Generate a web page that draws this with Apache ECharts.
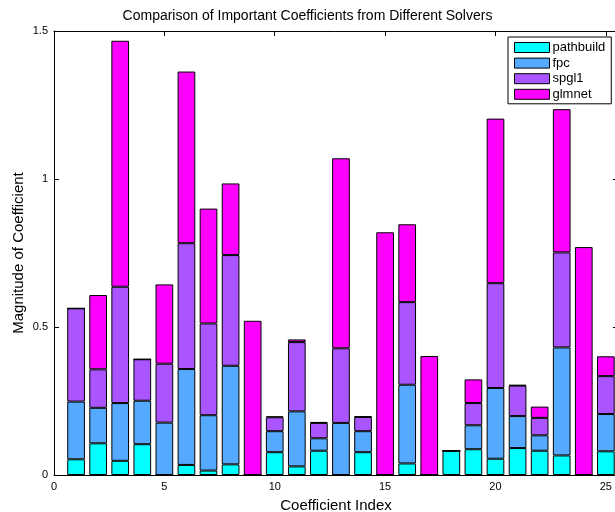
<!DOCTYPE html>
<html>
<head>
<meta charset="utf-8">
<script src="https://cdn.jsdelivr.net/npm/echarts@6/dist/echarts.min.js"></script>
<style>
  html, body { margin: 0; padding: 0; background: #fff; }
  #chart { width: 615px; height: 512px; }
</style>
</head>
<body>
<div id="chart"></div>
<script>
// Coefficient indices (x positions)
const indices = [1,2,3,4,5,6,7,8,9,10,11,12,13,14,15,16,17,18,19,20,21,22,23,24,25];
// Stacked segment heights for each solver
const pathbuild = [0.053,0.107,0.048,0.104,0,0.034,0.015,0.036,0,0.077,0.029,0.082,0,0.077,0,0.039,0,0.082,0.087,0.055,0.091,0.082,0.066,0,0.080];
const fpc       = [0.195,0.120,0.195,0.147,0.177,0.324,0.187,0.333,0,0.071,0.186,0.042,0.176,0.071,0,0.266,0,0,0.081,0.239,0.108,0.052,0.365,0,0.126];
const spgl1     = [0.315,0.130,0.393,0.140,0.199,0.425,0.310,0.374,0,0.047,0.234,0.052,0.252,0.048,0,0.279,0,0,0.075,0.354,0.103,0.059,0.321,0,0.128];
const glmnet    = [0,0.251,0.831,0,0.268,0.580,0.388,0.242,0.521,0.003,0.009,0.003,0.642,0.002,0.820,0.263,0.402,0,0.080,0.556,0.002,0.038,0.484,0.770,0.067];
const seriesNames = ['pathbuild','fpc','spgl1','glmnet'];
const seriesColors = ['#00FFFF','#55AAFF','#AA55FF','#FF00FF'];
const yTicks = [0, 0.5, 1, 1.5];
const xTicks = [0, 5, 10, 15, 20, 25];

const FONT = 'Liberation Sans, Arial, Helvetica, sans-serif';
const chart = echarts.init(document.getElementById('chart'), null, {renderer: 'canvas'});

const allData = [pathbuild, fpc, spgl1, glmnet];
// value first so that the stacked dimension is the y (value) dimension
const series = seriesNames.map((name, i) => ({
  name: name,
  type: 'bar',
  stack: 'total',
  barWidth: 17.7,
  xAxisIndex: 0,
  yAxisIndex: 0,
  dimensions: ['val', 'idx'],
  encode: { x: 'idx', y: 'val' },
  itemStyle: { color: seriesColors[i], borderColor: '#000', borderWidth: 1 },
  emphasis: { disabled: true },
  data: indices.map((x, k) => [allData[i][k], x])
}));

const axisCommonX = {
  type: 'value',
  min: 0,
  max: 25.55,
  interval: 5,
  splitLine: { show: false },
  axisLine: { onZero: false, lineStyle: { color: '#000', width: 1 } },
  axisTick: { inside: true, length: 5, lineStyle: { color: '#000' }, customValues: xTicks },
};
const axisCommonY = {
  type: 'value',
  min: 0,
  max: 1.5,
  interval: 0.5,
  splitLine: { show: false },
  axisLine: { show: true, onZero: false, lineStyle: { color: '#000', width: 1 } },
  axisTick: { show: true, inside: true, length: 5, lineStyle: { color: '#000' } },
};

chart.setOption({
  animation: false,
  backgroundColor: '#fff',
  title: {
    text: 'Comparison of Important Coefficients from Different Solvers',
    left: 'center',
    top: 4,
    textStyle: { fontFamily: FONT, fontSize: 14, fontWeight: 'normal', color: '#000' }
  },
  grid: { left: 54, top: 31, right: -3, bottom: 37, containLabel: false, outerBoundsMode: 'none' },
  legend: {
    data: seriesNames,
    orient: 'vertical',
    left: 508,
    top: 37,
    itemWidth: 35,
    itemHeight: 10,
    itemGap: 2.6,
    padding: [4, 6, 3, 6],
    backgroundColor: '#fff',
    borderColor: '#000',
    borderWidth: 1,
    borderRadius: 0,
    icon: 'rect',
    selectedMode: false,
    textStyle: { fontFamily: FONT, fontSize: 13, color: '#000', lineHeight: 12, padding: [0, 0, 0, -2] },
    itemStyle: { borderColor: '#000', borderWidth: 1 }
  },
  xAxis: [
    Object.assign({}, axisCommonX, {
      position: 'bottom',
      name: 'Coefficient Index',
      nameLocation: 'middle',
      nameGap: 23,
      nameMoveOverlap: false,
      nameTextStyle: { fontFamily: FONT, fontSize: 15, color: '#000' },
      axisLabel: { fontFamily: FONT, fontSize: 11, color: '#000', margin: 6, customValues: xTicks }
    }),
    Object.assign({}, axisCommonX, {
      position: 'top',
      axisLabel: { show: false }
    })
  ],
  yAxis: [
    Object.assign({}, axisCommonY, {
      position: 'left',
      name: 'Magnitude of Coefficient',
      nameLocation: 'middle',
      nameGap: 28,
      nameMoveOverlap: false,
      nameTextStyle: { fontFamily: FONT, fontSize: 15, color: '#000' },
      axisLabel: { fontFamily: FONT, fontSize: 11, color: '#000', margin: 6 }
    }),
    Object.assign({}, axisCommonY, {
      position: 'right',
      axisLabel: { show: false }
    })
  ],
  series: series
});
</script>
</body>
</html>
